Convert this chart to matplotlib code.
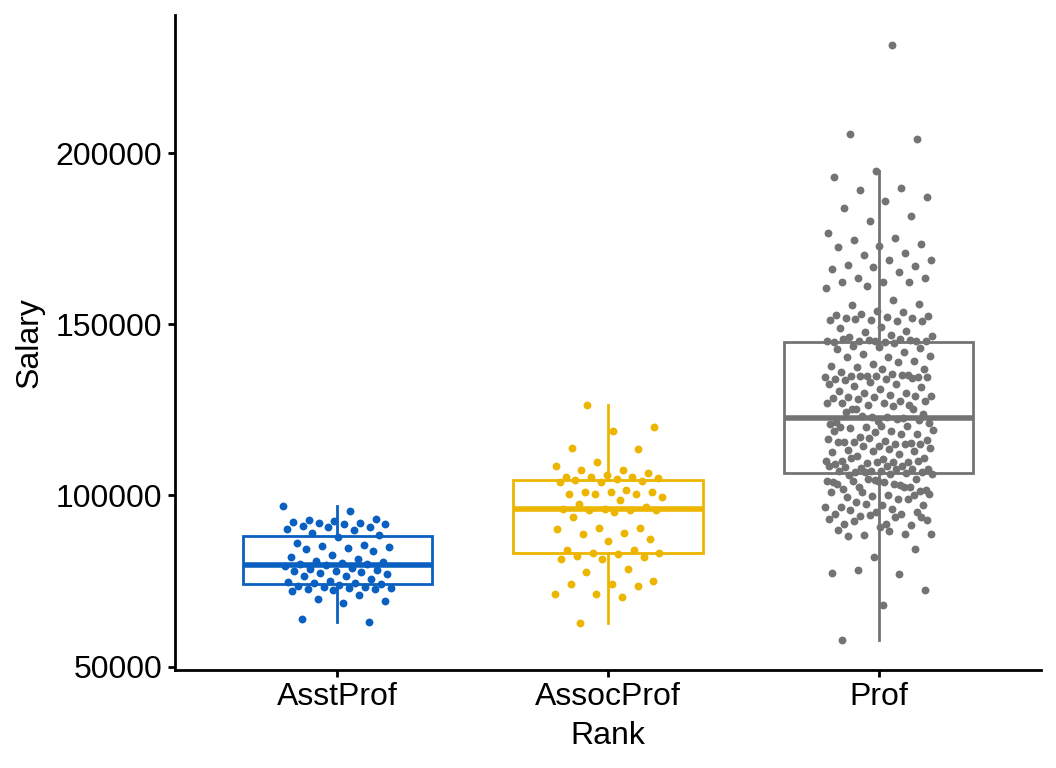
import numpy as np
import matplotlib
matplotlib.use("Agg")
import matplotlib.pyplot as plt

plt.rcParams['font.family'] = ['Liberation Sans', 'DejaVu Sans']

ranks = ["AsstProf", "AssocProf", "Prof"]
colors = ["#0A60C0", "#ECB500", "#737373"]

asst_prof = [97000, 95400, 92800, 93000, 92500, 92200, 92100, 92000, 91700, 91600,
             91200, 90900, 90700, 90200, 89900, 89000, 88600, 87800, 86000, 85400,
             85100, 84900, 84700, 84400, 83900, 82700, 82100, 81500, 81000, 80500,
             80200, 80100, 80000, 79800, 79500, 78800, 78500, 78200, 77900, 77800,
             77600, 77300, 77200, 76600, 76500, 75600, 74900, 74600, 74500, 74300,
             74100, 73900, 73700, 73400, 73200, 73100, 73000, 72700, 72600, 72400,
             72200, 71000, 69800, 69300, 68500, 63900, 63100]

assoc_prof = [126431, 119940, 118970, 113910, 113620, 109920, 108750, 107490, 107300, 106520,
              105840, 105540, 105500, 105350, 105150, 104860, 104380, 104180, 103890, 103850,
              101460, 101160, 101100, 100970, 100480, 100450, 100290, 99510, 98730, 97370,
              96590, 96110, 96050, 95820, 95750, 95620, 95130, 93680, 90470, 90400,
              90270, 89010, 88810, 87160, 86570, 84140, 84100, 83170, 83120, 82780,
              82290, 82000, 81520, 81480, 78400, 77620, 75000, 74220, 74030, 73440,
              71300, 71110, 70330, 62884]

prof = [231545, 205500, 204000, 194800, 192900, 189690,
        189300, 187060, 186090, 183950, 181520, 180060, 176650, 175190, 174610, 173440,
        172760, 172470, 170720, 170230, 168770, 168870, 167320, 166930, 166830, 166150,
        165170, 163420, 163400, 162450, 162400, 162300, 161280, 160600, 157200,
        155740, 155930, 153990, 152820, 153500, 153000, 152530, 152000, 151850, 151800,
        151260, 151200, 150870, 151560, 151070, 149320, 148930, 148150, 147660, 146690,
        146980, 146400, 145230, 145040, 144740, 145720, 145200, 145180, 144700, 145700,
        145430, 145400, 145040, 144450, 143770, 143090, 143290, 142800, 141830, 141340,
        140850, 140370, 140560, 139400, 138420, 137940, 138910, 137450, 136960, 136900,
        135990, 135310, 135020, 134530, 135500, 135000, 134500, 135010, 134040, 135300,
        134980, 134730, 134000, 133760, 134330, 133070, 132590, 132550, 132100, 131610,
        131130, 130440, 129860, 129800, 129180, 129470, 128700, 129150, 128890, 128500,
        127720, 128210, 127530, 126950, 126900, 126550, 126500, 126930, 126260, 125290,
        122100, 121800, 121500,
        122500, 123350, 121200, 122860, 124320, 125250, 122840, 120800, 122370, 125270,
        123830,
        120430, 119940, 120400, 119900, 119260, 118970, 119650, 117990, 118480, 118950,
        117960,
        117020, 116340, 116050, 115560, 115370, 116730, 116540, 115080, 115540, 115060,
        114590, 115550, 115070, 114570, 113810, 113620, 113420, 113130, 113100, 112840,
        112160, 111670, 110890, 110700, 110210, 109920, 109530, 110200, 109730, 110870,
        110190, 109710, 109240, 108560, 107980, 107780, 108750, 108270, 107760, 107290,
        108540, 107750, 107000, 106810, 107270, 107250, 106620, 106790, 106320, 106300,
        105840,
        104860, 104380, 103890, 102920, 102430, 101460, 103870, 101950, 102410, 104840,
        104360, 103410, 104350, 101420, 104330, 103380, 102390,
        100970, 100490, 100000, 99510, 100190, 99980, 100950,
        99030, 98050, 97270, 97080, 96590, 98830, 97570, 96570, 96110, 95620,
        95140, 95120,
        94650, 94600, 94100, 92700, 91730, 91700, 91250, 94160, 93190, 93680,
        92680, 93650, 90760, 89790, 88810, 88330, 88800, 89750, 88040,
        84440, 82000, 77330, 77140, 78310, 72470, 67900, 57800]

groups = [asst_prof, assoc_prof, prof]

fig = plt.figure(figsize=(10.56, 7.68), dpi=100)
ax = fig.add_axes([0.1657, 0.128, 0.82, 0.852])

for i, (vals, col) in enumerate(zip(groups, colors)):
    pos = i + 1
    ax.boxplot(vals, positions=[pos], widths=0.7, showfliers=False,
               patch_artist=True, whis=1.5,
               boxprops=dict(facecolor="white", edgecolor=col, linewidth=2.0),
               medianprops=dict(color=col, linewidth=4.0),
               whiskerprops=dict(color=col, linewidth=2.0),
               capprops=dict(linewidth=0))
    n = len(vals)
    # deterministic jitter (golden ratio sequence)
    jit = ((np.arange(n) * 0.6180339887 + 0.31 * i) % 1.0 - 0.5) * 0.4
    ax.scatter(pos + jit, vals, s=32, color=col, linewidths=0, zorder=3)

ax.set_xlim(0.4, 3.6)
ax.set_ylim(49113, 240232)
ax.set_xticks([1, 2, 3])
ax.set_xticklabels(ranks)
ax.set_yticks([50000, 100000, 150000, 200000])
ax.set_yticklabels(["50000", "100000", "150000", "200000"])
ax.set_xlabel("Rank", fontsize=23, labelpad=6)
ax.set_ylabel("Salary", fontsize=23, labelpad=8)
ax.tick_params(labelsize=23, width=2.0, length=5, color="black", pad=4)
for side in ["top", "right"]:
    ax.spines[side].set_visible(False)
for side in ["left", "bottom"]:
    ax.spines[side].set_linewidth(2.0)

fig.savefig("out.png", dpi=100)
